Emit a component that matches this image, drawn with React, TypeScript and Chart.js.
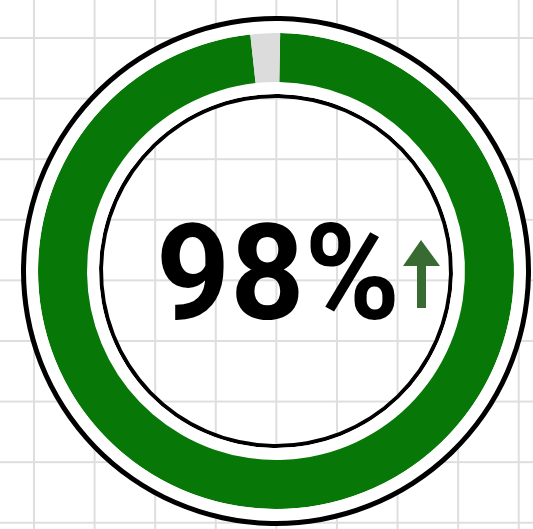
import React, { useEffect, useRef } from "react";
import { Chart, registerables } from "chart.js";

Chart.register(...registerables);

const categories = ["Complete", "Remaining"];
const seriesValues = [98, 2];
const ringColors = ["#077807", "#dcdcdc"];
const centerLabel = "98%";

export default function App() {
  const ref = useRef<HTMLCanvasElement | null>(null);

  useEffect(() => {
    document.body.style.margin = "0";
    const canvas = ref.current;
    if (!canvas) return;
    const chart = new Chart(canvas, {
      type: "doughnut",
      data: {
        labels: categories,
        datasets: [
          { data: [100], backgroundColor: ["#000000"], borderWidth: 0, weight: 5 },
          { data: [100], backgroundColor: ["#ffffff"], borderWidth: 0, weight: 12 },
          { data: seriesValues, backgroundColor: ringColors, borderWidth: 0, weight: 49 },
          { data: [100], backgroundColor: ["#ffffff"], borderWidth: 0, weight: 12 },
          { data: [100], backgroundColor: ["#000000"], borderWidth: 0, weight: 4 },
        ],
      } as any,
      options: {
        animation: false,
        responsive: false,
        maintainAspectRatio: false,
        rotation: 1,
        cutout: 173,
        layout: { padding: { left: 21, right: 2, top: 16, bottom: 3 } },
        plugins: {
          legend: { display: false },
          tooltip: { enabled: false },
        },
        events: [],
      } as any,
    });
    return () => chart.destroy();
  }, []);

  return (
    <div
      style={{
        position: "relative",
        width: 533,
        height: 529,
        overflow: "hidden",
        backgroundColor: "#ffffff",
        backgroundImage:
          "linear-gradient(to right, #dedede 2px, transparent 2px), linear-gradient(to bottom, #dedede 2px, transparent 2px)",
        backgroundSize: "60.6px 60.6px",
        backgroundPosition: "33px 37px",
      }}
    >
      <canvas ref={ref} width={533} height={529} style={{ position: "absolute", left: 0, top: 0 }} />
      <div
        style={{
          position: "absolute",
          left: 156,
          top: 207,
          fontFamily: "Roboto, 'Noto Sans', sans-serif",
          fontWeight: 700,
          fontSize: 134,
          lineHeight: 1,
          color: "#000",
          whiteSpace: "nowrap",
          transform: "scaleX(0.965)",
          transformOrigin: "left top",
        }}
      >
        {centerLabel}
      </div>
      <svg
        width={40}
        height={70}
        viewBox="0 0 40 70"
        style={{ position: "absolute", left: 402, top: 240 }}
      >
        <polygon points="1,26 19,0 38,26" fill="#386b31" />
        <rect x={15} y={24} width={9} height={44} fill="#386b31" />
      </svg>
    </div>
  );
}
